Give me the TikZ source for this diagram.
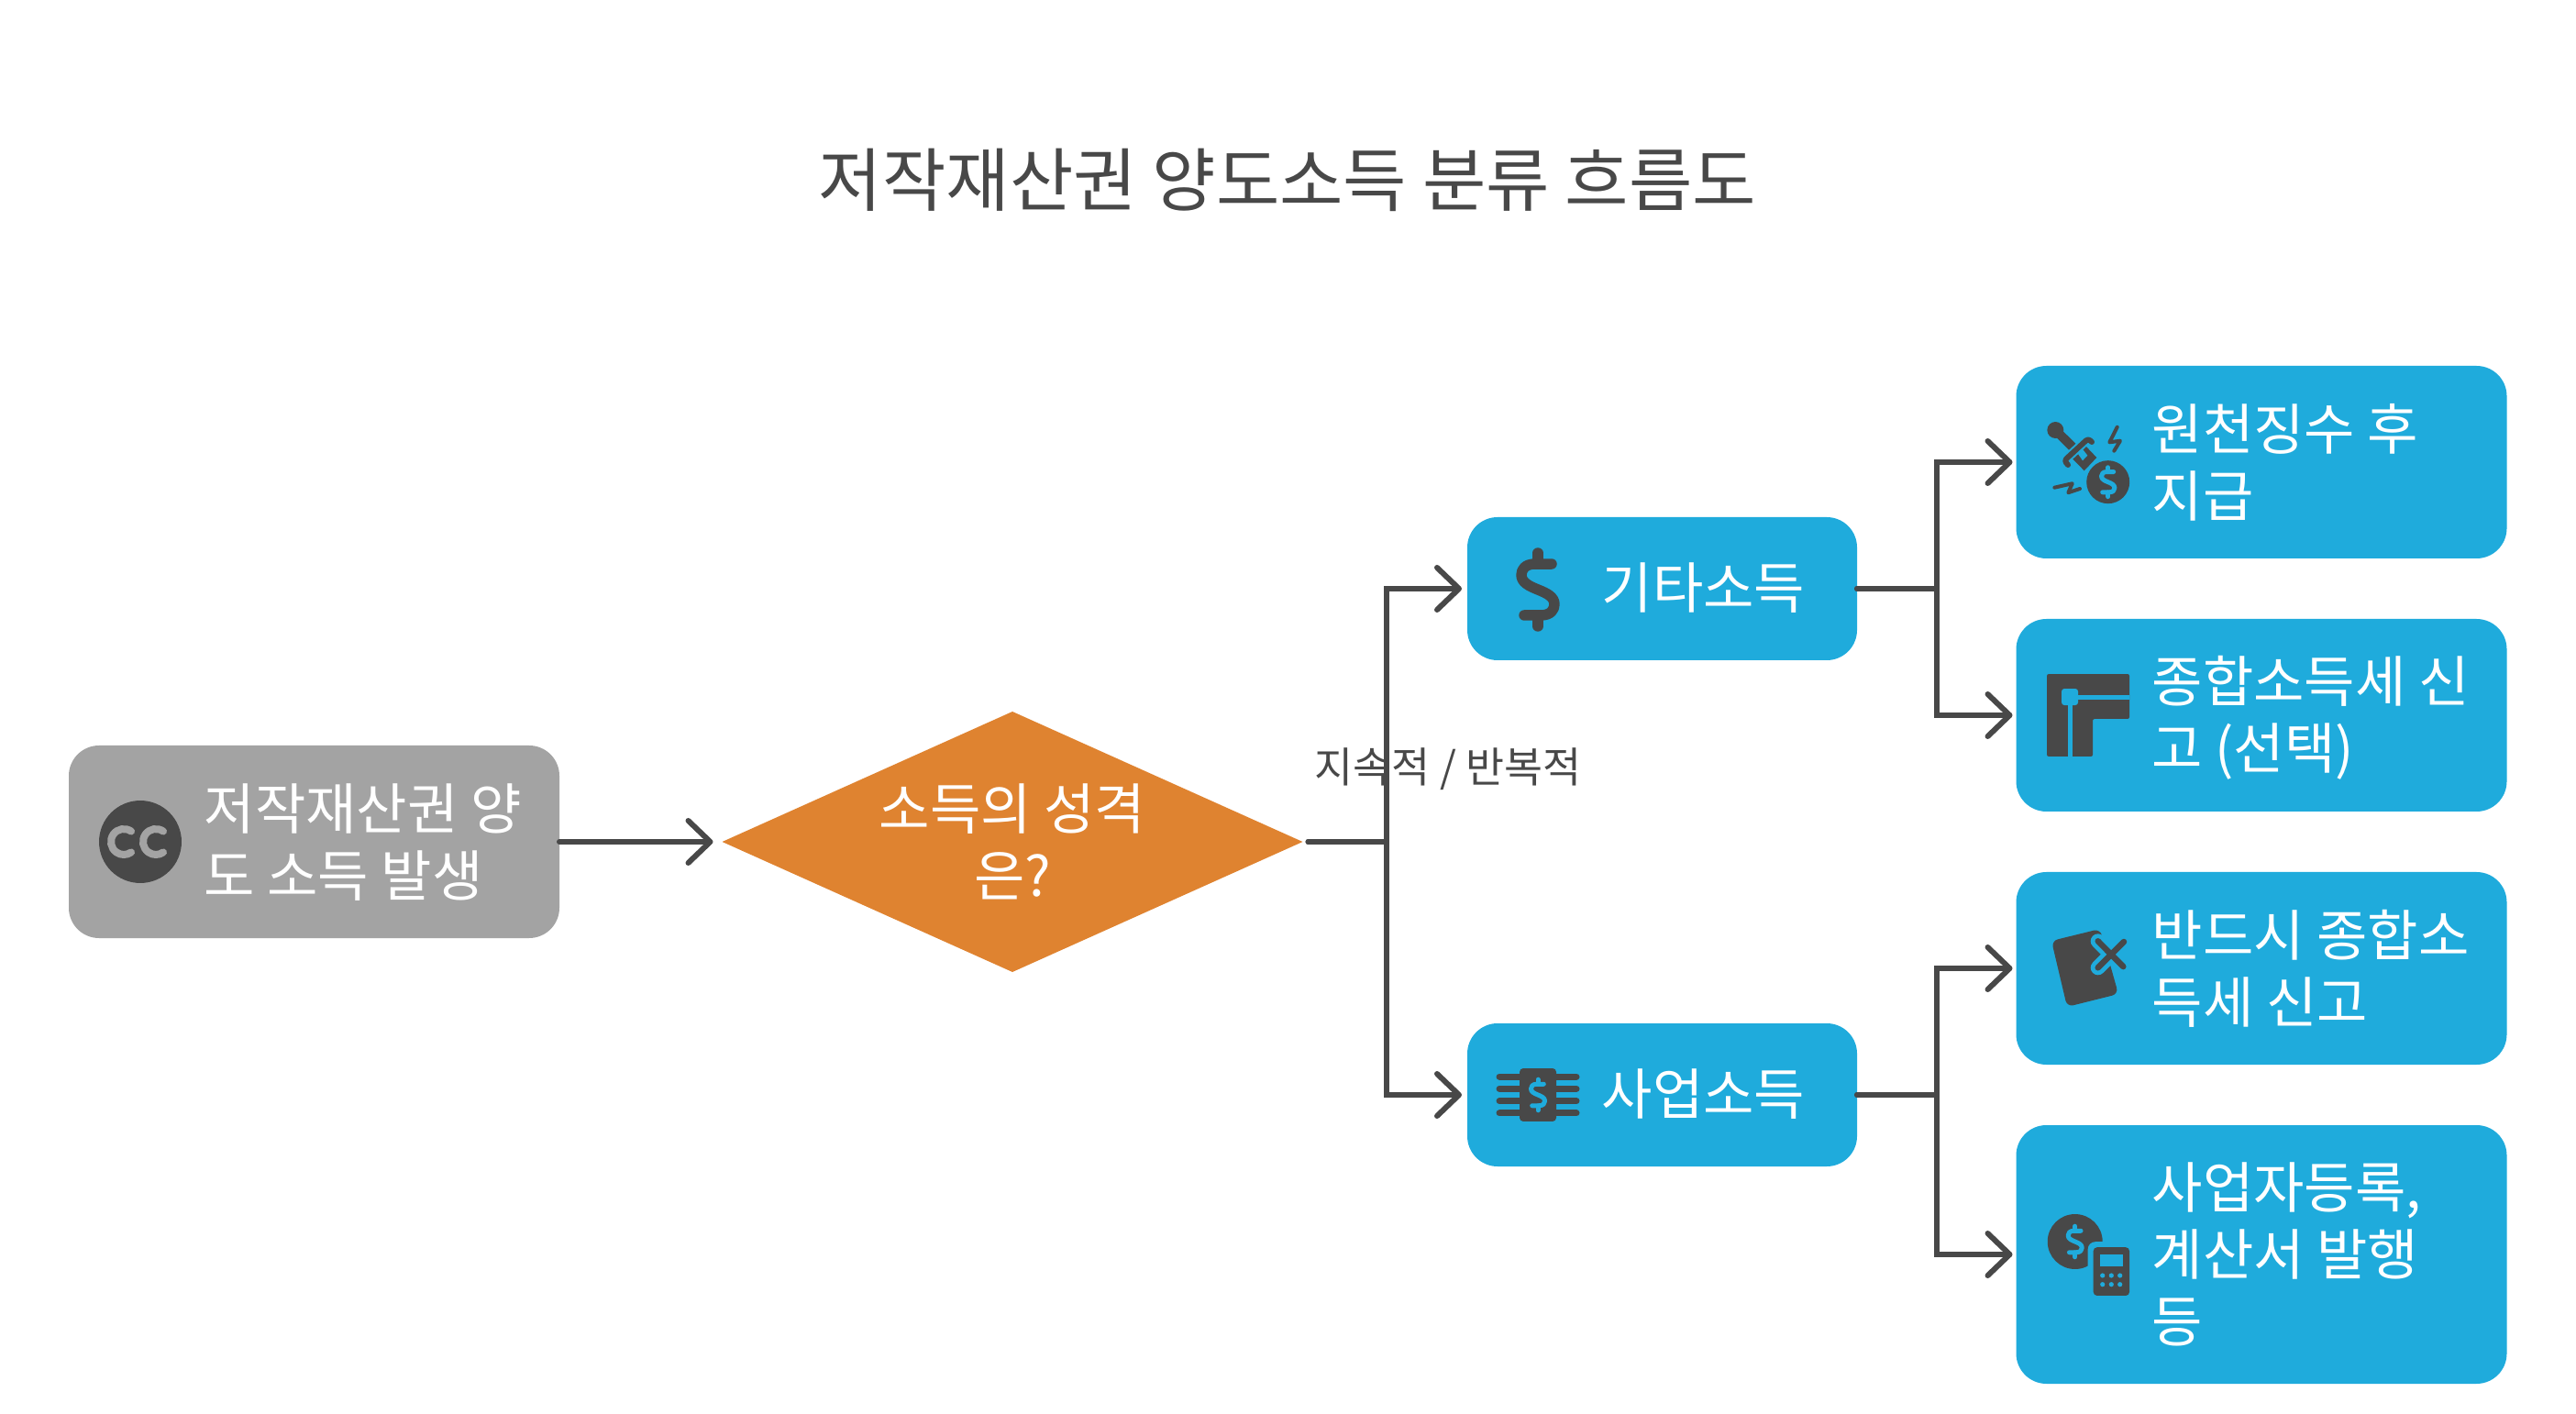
\documentclass[tikz,border=0pt]{standalone}
\usepackage{fontspec}
\setmainfont{Noto Sans CJK KR}
\usetikzlibrary{arrows.meta,shapes.geometric}
\definecolor{boxblue}{HTML}{1FABDC}
\definecolor{darkgray}{HTML}{484848}
\definecolor{boxgray}{HTML}{A3A3A3}
\definecolor{boxorange}{HTML}{DF8330}
\tikzset{
    box/.style = {rounded corners = 0.33cm, minimum width = #1, outer sep = 0, inner sep = 0},
    boxtext/.style = {anchor = west, inner sep = 0, text = white, align = left, font = \fontsize{17.13}{20.8}\selectfont},
    flow/.style = {draw = darkgray, line width = 0.06cm, line cap = round, shorten > = 0.06cm,
        -{Straight Barb[round, length = 0.24cm, width = 0.46cm]}},
    icon/.style = {shift = {#1}, scale = 0.01},
    round line/.style = {line cap = round, line join = round}
}
% dollar sign drawn at 90 px height
\newcommand{\dollarmark}[4]{
    \begin{scope}[shift = {(#1,#2)}, scale = #3]
        \draw[round line, line width = 0.115cm, #4]
            (15,28) -- (-3,28) .. controls (-14,28) and (-18,22) .. (-18,16)
            .. controls (-18,8) and (-10,4) .. (0,0) .. controls (10,-4) and (18,-8) .. (18,-16)
            .. controls (18,-22) and (14,-28) .. (3,-28) -- (-15,-28);
        \draw[round line, line width = 0.115cm, #4] (0,40) -- (0,28) (0,-28) -- (0,-40);
    \end{scope}
}
\begin{document}
\begin{tikzpicture}
    \useasboundingbox (0,0) rectangle (28.09,15.41);

    \node[text = darkgray, font = \fontsize{21.46}{26}\selectfont] (title) at (14.04,13.45) {저작재산권 양도소득 분류 흐름도};

    \node[box = 5.35cm, minimum height = 2.10cm, fill = boxgray] (start) at (3.425,6.23) {};
    \node[diamond, fill = boxorange, minimum width = 6.33cm, minimum height = 2.84cm, aspect = 2.2, inner sep = 0, outer sep = 0,
        text = white, align = center, font = \fontsize{17.13}{20.8}\selectfont] (kind) at (11.04,6.23) {소득의 성격\\은?};

    \node[box = 4.25cm, minimum height = 1.56cm, fill = boxblue] (other) at (18.125,8.99) {};
    \node[box = 4.25cm, minimum height = 1.56cm, fill = boxblue] (biz) at (18.125,3.47) {};

    \node[box = 5.35cm, minimum height = 2.10cm, fill = boxblue] (r1) at (24.66,10.37) {};
    \node[box = 5.35cm, minimum height = 2.10cm, fill = boxblue] (r2) at (24.66,7.61) {};
    \node[box = 5.35cm, minimum height = 2.10cm, fill = boxblue] (r3) at (24.66,4.85) {};
    \node[box = 5.35cm, minimum height = 2.82cm, fill = boxblue] (r4) at (24.66,1.73) {};

    \node[boxtext] (startlabel) at (2.22,6.22) {저작재산권 양\\도 소득 발생};
    \node[boxtext] (otherlabel) at (17.46,9.00) {기타소득};
    \node[boxtext] (bizlabel) at (17.46,3.48) {사업소득};
    \node[boxtext] (r1label) at (23.46,10.37) {원천징수 후\\지급};
    \node[boxtext] (r2label) at (23.46,7.58) {종합소득세 신\\고 (선택)};
    \node[boxtext] (r3label) at (23.46,4.85) {반드시 종합소\\득세 신고};
    \node[boxtext] (r4label) at (23.46,1.73) {사업자등록,\\계산서 발행\\등};

    \node[text = darkgray, font = \fontsize{13}{15}\selectfont, inner sep = 0] (cond) at (15.79,7.02) {지속적 / 반복적};

    \coordinate (fork) at (15.12,6.23);
    \coordinate (forkup) at (21.12,8.99);
    \coordinate (forkdown) at (21.12,3.47);

    \draw[flow, shorten > = 0.1cm] (start.east) -- (kind.west);
    \foreach \to in {other,biz} {
        \draw[flow, shorten < = 0.06cm] (kind.east) -- (fork) |- (\to.west);
    }
    \foreach \to in {r1,r2} {
        \draw[flow, shorten > = 0.04cm] (other.east) -- (forkup) |- (\to.west);
    }
    \foreach \to in {r3,r4} {
        \draw[flow, shorten > = 0.04cm] (biz.east) -- (forkdown) |- (\to.west);
    }

    %Icon cc
    \begin{scope}[icon = {(1.53,6.23)}]
        \fill[darkgray] (0,0) circle (45);
        \foreach \x in {-18,17} {
            \draw[boxgray, line width = 0.08cm, line cap = round] (\x,0) ++(55:14) arc (55:305:14);
        }
    \end{scope}

    %Icon dollar
    \begin{scope}[icon = {(16.77,8.98)}]
        \dollarmark{0}{0}{1}{darkgray}
    \end{scope}

    %Icon chip
    \begin{scope}[icon = {(16.77,3.47)}]
        \foreach \y in {-20,-6.7,6.7,20} {
            \draw[darkgray, line width = 0.07cm, line cap = round] (-42,\y) -- (42,\y);
        }
        \fill[darkgray, rounded corners = 0.04cm] (-20,29) rectangle (20,-29);
        \dollarmark{0}{0}{0.42}{boxblue, line width = 0.05cm}
    \end{scope}

    %Icon dagger
    \begin{scope}[icon = {(22.77,10.37)}]
        \fill[darkgray] (-35.7,35) circle (9);
        \draw[darkgray, line width = 0.1cm] (-35.7,35) -- (-15,14.5);
        \fill[darkgray] (-5,20) -- (9.3,5) -- (-4.3,-9.3) -- (-19.3,6) -- cycle;
        \draw[boxblue, line width = 0.1cm] (-26,1.7) -- (0,25.7);
        \draw[darkgray, line width = 0.06cm, round line, rounded corners = 0.03cm] (-22,-3) -- (-26,1.7) -- (0,25.7) -- (4,22);
        \fill[boxblue] (-11.7,10) -- (-6.7,15) -- (-0.7,7.3) -- (-6,1.7) -- cycle;
        \fill[darkgray] (21.7,-21.7) circle (23.5);
        \dollarmark{21.7}{-21.7}{0.4}{boxblue, line width = 0.05cm}
        \draw[darkgray, line width = 0.04cm, round line] (31.7,38.3) -- (23.3,21.7) -- (35,23.3) -- (28.3,12.3);
        \draw[darkgray, line width = 0.04cm, round line] (-36.7,-27.7) -- (-17.3,-23.3) -- (-21.7,-33.3) -- (-9,-29);
    \end{scope}

    %Icon frame
    \begin{scope}[icon = {(22.77,7.61)}]
        \fill[darkgray, rounded corners = 0.02cm] (-45,45) -- (45,45) -- (45,-4) -- (5,-4) -- (5,-45) -- (-45,-45) -- cycle;
        \draw[boxblue, line width = 0.05cm] (-20,20) -- (45,20);
        \draw[boxblue, line width = 0.05cm] (-20,20) -- (-20,-45);
        \fill[boxblue, rounded corners = 0.03cm] (-29,29) rectangle (-11,11);
    \end{scope}

    %Icon note
    \begin{scope}[icon = {(22.77,4.85)}]
        \fill[darkgray, rounded corners = 0.07cm] (-40,30) -- (13,43) -- (33,-28) -- (-23,-42) -- cycle;
        \draw[boxblue, line width = 0.16cm, line cap = round] (10.7,29.7) -- (38.3,1.9) (39,29) -- (10.7,0.7);
        \draw[darkgray, line width = 0.065cm, line cap = round] (10.7,29.7) -- (38.3,1.9) (39,29) -- (10.7,0.7);
    \end{scope}

    %Icon calculator
    \begin{scope}[icon = {(22.77,1.73)}]
        \fill[darkgray] (-14.3,14) circle (30);
        \dollarmark{-14.3}{14}{0.42}{boxblue, line width = 0.05cm}
        \fill[boxblue, rounded corners = 0.08cm] (-0.3,13.8) rectangle (51,-51);
        \fill[darkgray, rounded corners = 0.04cm] (5.7,7.8) rectangle (45,-45);
        \fill[boxblue] (12.7,0.4) rectangle (37.7,-12.6);
        \foreach \x in {15.7,25.3,34.7} {
            \foreach \y in {-23,-32.7} {
                \fill[boxblue] (\x,\y) circle (2.6);
            }
        }
    \end{scope}
\end{tikzpicture}
\end{document}
